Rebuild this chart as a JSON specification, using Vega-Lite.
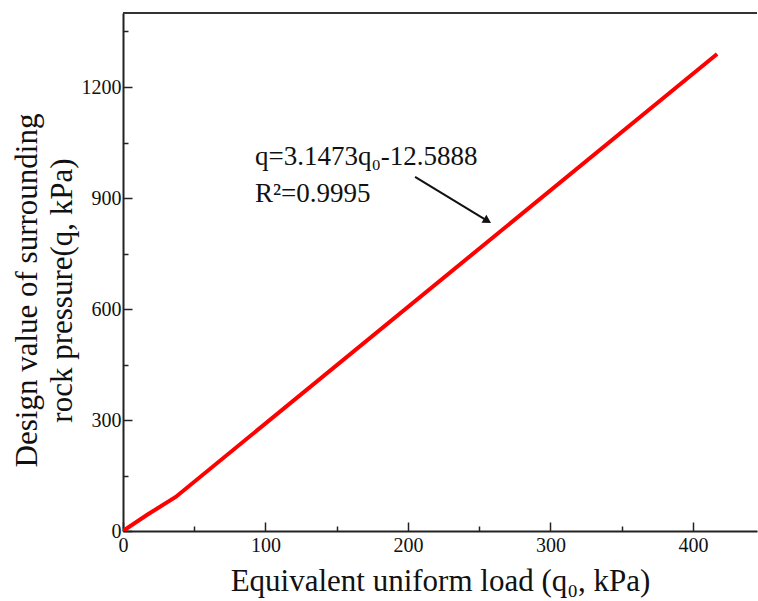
{
  "$schema": "https://vega.github.io/schema/vega-lite/v6.json",
  "autosize": "none",
  "width": 634,
  "height": 518,
  "padding": {"left": 123, "top": 13, "right": 1, "bottom": 70},
  "background": "white",
  "view": {"stroke": "transparent", "strokeWidth": 0, "fill": null},
  "config": {
    "view": {"stroke": "transparent", "strokeWidth": 0},
    "font": "Liberation Serif",
    "axis": {
      "grid": false,
      "domainColor": "#222222",
      "domainWidth": 2,
      "tickColor": "#222222",
      "tickWidth": 1.5,
      "labelColor": "#111111",
      "titleColor": "#111111",
      "labelFont": "Liberation Serif",
      "titleFont": "Liberation Serif",
      "labelFontSize": 20,
      "titleFontSize": 31,
      "titleFontWeight": "normal"
    }
  },
  "datasets": {
    "line": [
      {"q0": 0, "q": 0},
      {"q0": 17, "q": 44},
      {"q0": 37, "q": 92},
      {"q0": 417, "q": 1289}
    ],
    "frame": [
      {"q0": 0, "q": 1400, "q0end": 445}
    ],
    "arrow": [
      {"q0": 205, "q": 957, "q0end": 255.5, "qend": 839}
    ],
    "head": [
      {"q0": 255, "q": 840}
    ],
    "labels": [
      {"q0": 92.6, "q": 989, "t": "q=3.1473q₀-12.5888"},
      {"q0": 92.6, "q": 889, "t": "R²=0.9995"}
    ]
  },
  "encoding": {
    "x": {
      "field": "q0", "type": "quantitative",
      "scale": {"domain": [0, 445], "nice": false, "zero": false},
      "axis": {
        "orient": "bottom",
        "values": [0, 50, 100, 150, 200, 250, 300, 350, 400],
        "labelExpr": "datum.value % 100 === 0 ? datum.label : ''",
        "tickSize": {"condition": {"test": "datum.value % 100 === 0", "value": -9}, "value": -5},
        "labelPadding": 13,
        "labelFlush": false,
        "labelOverlap": false,
        "title": "Equivalent uniform load (q₀, kPa)",
        "titlePadding": 7
      }
    },
    "y": {
      "field": "q", "type": "quantitative",
      "scale": {"domain": [0, 1400], "nice": false, "zero": false},
      "axis": {
        "orient": "left",
        "values": [0, 150, 300, 450, 600, 750, 900, 1050, 1200, 1350],
        "labelExpr": "datum.value % 300 === 0 ? datum.label : ''",
        "tickSize": {"condition": {"test": "datum.value % 300 === 0", "value": -9}, "value": -5},
        "labelPadding": 11,
        "labelFlush": false,
        "labelOverlap": false,
        "format": "d",
        "title": ["Design value of surrounding", "rock pressure(q, kPa)"],
        "titleLineHeight": 35,
        "titlePadding": 3,
        "titleY": 277
      }
    }
  },
  "layer": [
    {
      "data": {"name": "frame"},
      "mark": {"type": "rule", "color": "#333333", "strokeWidth": 2},
      "encoding": {"x2": {"field": "q0end"}}
    },
    {
      "data": {"name": "line"},
      "mark": {"type": "line", "color": "#ff0000", "strokeWidth": 4, "clip": true}
    },
    {
      "data": {"name": "arrow"},
      "mark": {"type": "rule", "color": "#111111", "strokeWidth": 2},
      "encoding": {
        "x2": {"field": "q0end"},
        "y2": {"field": "qend"}
      }
    },
    {
      "data": {"name": "head"},
      "mark": {"type": "point", "shape": "triangle", "filled": true, "color": "#111111", "size": 90, "angle": 121, "opacity": 1}
    },
    {
      "data": {"name": "labels"},
      "mark": {"type": "text", "align": "left", "baseline": "alphabetic", "fontSize": 27, "font": "Liberation Serif", "color": "#111111"},
      "encoding": {"text": {"field": "t"}}
    }
  ]
}
